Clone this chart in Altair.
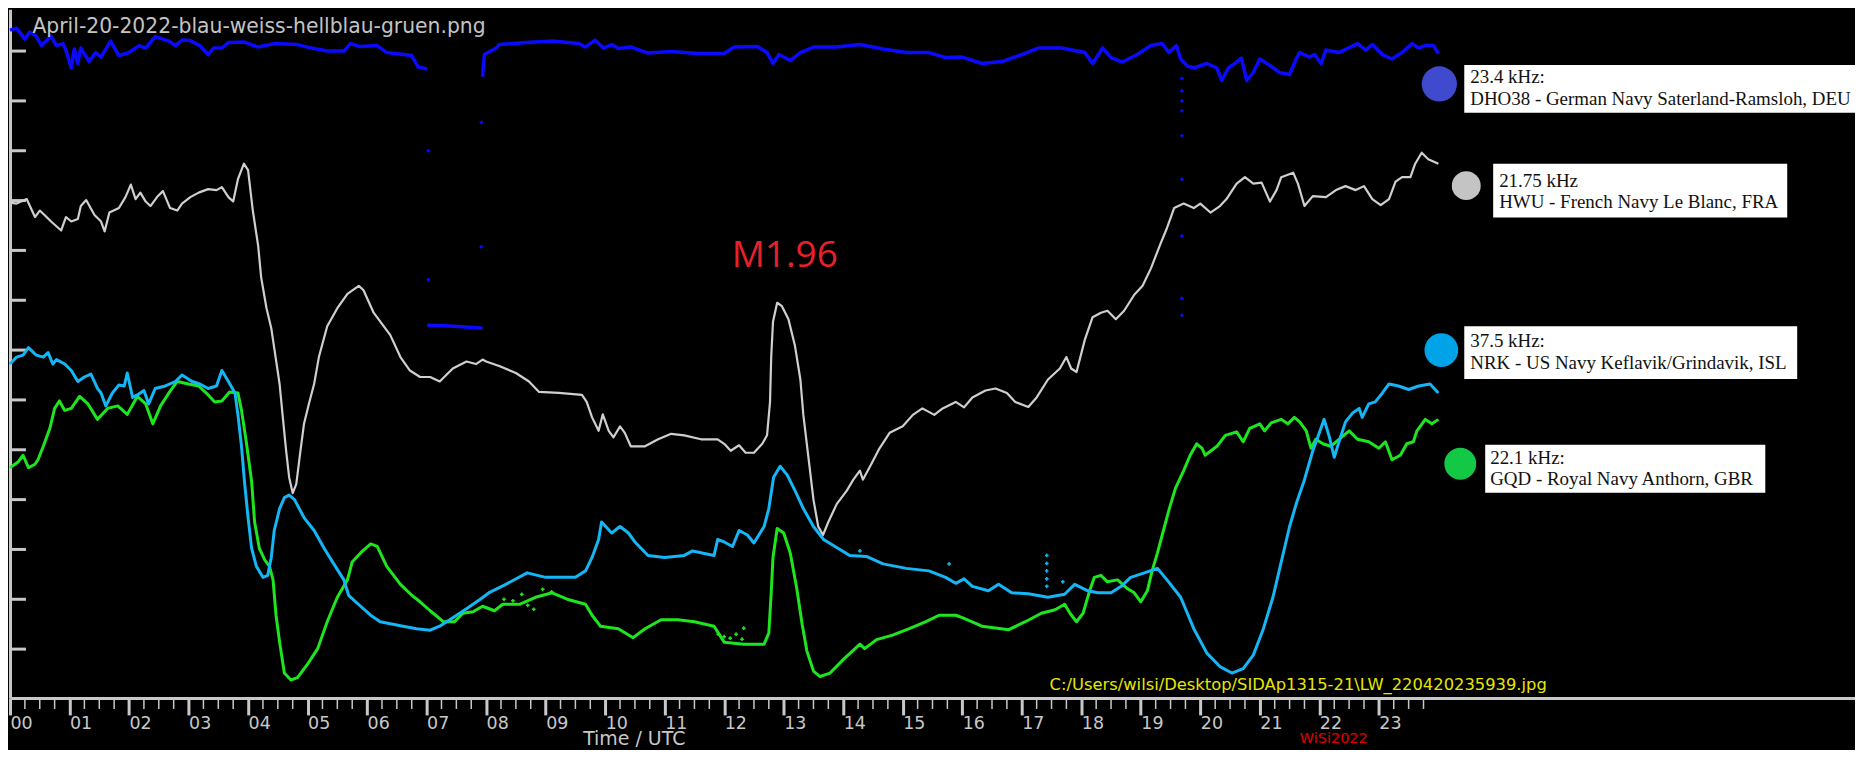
import altair as alt
import pandas as pd

# ---------------- data (hour UTC, relative signal level in axis-tick units) ----------------
HOURS = list(range(24))
HOUR_LABELS = ["00", "01", "02", "03", "04", "05", "06", "07", "08", "09", "10", "11",
               "12", "13", "14", "15", "16", "17", "18", "19", "20", "21", "22", "23"]
MINOR_TICKS = [h + q for h in range(24) for q in (0.25, 0.5, 0.75)]
Y_TICKS = [1, 2, 3, 4, 5, 6, 7, 8, 9, 10, 11, 12, 13]

# 23.4 kHz DHO38 (blue) - three pieces
DHO38_A = [(0, 13.42), (0.11, 13.46), (0.25, 13.24), (0.33, 13.38), (0.44, 13.30), (0.53, 13.11),
           (0.69, 13.30), (0.78, 13.11), (0.89, 13.15), (0.94, 13.02), (1.03, 12.66), (1.08, 13.04),
           (1.14, 12.75), (1.19, 13.06), (1.33, 12.79), (1.44, 12.97), (1.53, 12.88), (1.69, 13.20),
           (1.83, 12.91), (2.0, 12.97), (2.17, 13.11), (2.28, 13.06), (2.44, 13.29), (2.67, 13.20),
           (2.78, 13.11), (2.89, 13.22), (3.03, 13.21), (3.19, 13.11), (3.33, 12.93), (3.42, 13.06),
           (3.56, 13.06), (3.67, 13.17), (3.94, 13.18), (4.17, 13.08), (4.44, 13.15), (4.83, 13.13),
           (5.06, 13.06), (5.33, 13.00), (5.61, 13.00), (5.72, 13.15), (5.89, 13.09), (6.17, 13.11),
           (6.33, 12.97), (6.75, 12.91), (6.86, 12.68), (7.01, 12.64)]
DHO38_B = [(7.01, 7.50), (7.3, 7.49), (7.6, 7.47), (7.94, 7.44)]
DHO38_C = [(7.94, 12.48), (7.97, 12.93), (8.17, 13.06), (8.22, 13.13), (8.67, 13.17), (9.11, 13.20),
           (9.56, 13.15), (9.67, 13.08), (9.83, 13.22), (9.97, 13.06), (10.11, 13.13), (10.22, 13.05),
           (10.44, 13.08), (10.72, 12.96), (11.11, 12.99), (11.56, 12.95), (12.0, 12.95), (12.17, 13.08),
           (12.56, 13.09), (12.72, 12.97), (12.82, 12.75), (12.92, 12.93), (13.11, 12.81), (13.28, 12.97),
           (13.5, 13.08), (13.89, 13.08), (14.28, 13.13), (14.67, 13.04), (15.06, 12.97), (15.44, 12.97),
           (15.72, 12.87), (16.0, 12.88), (16.33, 12.75), (16.67, 12.79), (17.0, 12.93), (17.28, 13.06),
           (17.67, 13.06), (18.06, 12.97), (18.19, 12.75), (18.36, 13.06), (18.5, 12.87), (18.69, 12.78),
           (18.94, 12.93), (19.17, 13.11), (19.36, 13.15), (19.47, 12.97), (19.6, 13.11), (19.67, 12.84),
           (19.78, 12.70), (19.89, 12.66), (20.11, 12.75), (20.28, 12.66), (20.36, 12.41), (20.47, 12.66),
           (20.58, 12.75), (20.69, 12.86), (20.78, 12.41), (20.89, 12.57), (21.0, 12.84), (21.17, 12.71),
           (21.33, 12.57), (21.5, 12.53), (21.61, 12.84), (21.67, 12.97), (21.83, 12.88), (21.92, 12.93),
           (22.03, 12.75), (22.11, 13.02), (22.33, 12.97), (22.64, 13.15), (22.78, 13.02), (22.89, 13.13),
           (23.06, 12.93), (23.22, 12.84), (23.39, 12.97), (23.56, 13.15), (23.67, 13.06), (23.78, 13.11),
           (23.92, 13.11), (24.0, 12.95)]
DHO38_SCATTER = [(7.03, 11.0), (7.03, 8.41), (7.92, 11.57), (7.92, 9.07), (19.69, 12.45), (19.69, 12.2),
                 (19.69, 12.0), (19.69, 11.8), (19.69, 11.3), (19.69, 10.43), (19.69, 9.29),
                 (19.69, 8.04), (19.69, 7.7)]

# 21.75 kHz HWU (white / grey)
HWU = [(0, 9.96), (0.11, 9.94), (0.28, 10.03), (0.42, 9.67), (0.5, 9.80), (0.58, 9.71), (0.69, 9.58),
       (0.86, 9.40), (0.94, 9.67), (1.03, 9.58), (1.14, 9.63), (1.19, 9.89), (1.28, 10.01), (1.42, 9.71),
       (1.53, 9.58), (1.59, 9.38), (1.67, 9.76), (1.83, 9.85), (1.94, 10.07), (2.03, 10.32), (2.11, 10.03),
       (2.19, 10.16), (2.28, 9.98), (2.36, 9.89), (2.47, 10.07), (2.57, 10.19), (2.69, 9.85), (2.81, 9.80),
       (2.89, 9.94), (3.03, 10.07), (3.17, 10.16), (3.33, 10.23), (3.47, 10.21), (3.56, 10.27),
       (3.67, 10.07), (3.75, 9.98), (3.83, 10.43), (3.93, 10.74), (4.0, 10.61), (4.08, 9.80), (4.17, 9.09),
       (4.22, 8.46), (4.31, 7.84), (4.39, 7.44), (4.44, 7.04), (4.53, 6.32), (4.58, 5.70), (4.64, 4.98),
       (4.69, 4.45), (4.75, 4.13), (4.81, 4.31), (4.88, 4.98), (4.94, 5.52), (5.03, 5.96), (5.11, 6.32),
       (5.19, 6.86), (5.33, 7.48), (5.5, 7.84), (5.67, 8.13), (5.86, 8.29), (5.94, 8.20), (6.11, 7.75),
       (6.39, 7.30), (6.56, 6.86), (6.72, 6.59), (6.89, 6.46), (7.06, 6.46), (7.22, 6.37), (7.44, 6.63),
       (7.67, 6.77), (7.83, 6.72), (7.94, 6.81), (8.0, 6.77), (8.22, 6.68), (8.5, 6.54), (8.72, 6.37),
       (8.89, 6.16), (9.22, 6.14), (9.61, 6.10), (9.69, 5.96), (9.78, 5.65), (9.89, 5.38), (9.96, 5.71),
       (10.06, 5.38), (10.14, 5.25), (10.25, 5.47), (10.33, 5.34), (10.43, 5.07), (10.67, 5.07),
       (10.89, 5.21), (11.11, 5.32), (11.33, 5.29), (11.61, 5.21), (11.89, 5.21), (12.0, 5.12),
       (12.11, 4.98), (12.25, 5.09), (12.36, 4.94), (12.5, 4.94), (12.64, 5.12), (12.72, 5.29),
       (12.77, 5.96), (12.79, 6.86), (12.82, 7.57), (12.89, 7.95), (12.97, 7.88), (13.08, 7.62),
       (13.19, 7.08), (13.28, 6.41), (13.33, 5.70), (13.42, 4.80), (13.5, 4.0), (13.58, 3.46),
       (13.66, 3.29), (13.75, 3.55), (13.89, 3.91), (14.06, 4.18), (14.17, 4.40), (14.28, 4.58),
       (14.33, 4.40), (14.47, 4.71), (14.61, 5.03), (14.78, 5.34), (15.0, 5.47), (15.17, 5.70),
       (15.33, 5.83), (15.53, 5.70), (15.67, 5.83), (15.89, 5.96), (16.03, 5.85), (16.17, 6.05),
       (16.39, 6.19), (16.56, 6.23), (16.75, 6.14), (16.89, 5.96), (17.11, 5.86), (17.25, 6.05),
       (17.44, 6.41), (17.64, 6.63), (17.75, 6.86), (17.83, 6.63), (17.92, 6.56), (18.06, 7.21),
       (18.19, 7.66), (18.33, 7.75), (18.44, 7.79), (18.58, 7.62), (18.72, 7.79), (18.89, 8.11),
       (19.03, 8.29), (19.17, 8.64), (19.33, 9.13), (19.44, 9.45), (19.56, 9.85), (19.72, 9.94),
       (19.89, 9.85), (20.0, 9.94), (20.17, 9.76), (20.33, 9.89), (20.44, 10.03), (20.61, 10.34),
       (20.75, 10.47), (20.89, 10.34), (21.03, 10.36), (21.17, 9.98), (21.28, 10.21), (21.36, 10.47),
       (21.56, 10.56), (21.64, 10.34), (21.75, 9.89), (21.89, 10.09), (22.11, 10.07), (22.28, 10.21),
       (22.44, 10.29), (22.61, 10.21), (22.75, 10.29), (22.89, 10.03), (23.03, 9.91), (23.17, 10.03),
       (23.28, 10.38), (23.39, 10.47), (23.53, 10.47), (23.61, 10.74), (23.72, 10.96), (23.83, 10.83),
       (24.0, 10.74)]

# 37.5 kHz NRK (light blue)
NRK = [(0, 6.72), (0.11, 6.86), (0.22, 6.90), (0.31, 7.05), (0.44, 6.90), (0.56, 6.86), (0.64, 6.95),
       (0.72, 6.72), (0.78, 6.81), (0.92, 6.72), (1.03, 6.59), (1.14, 6.37), (1.25, 6.46), (1.36, 6.52),
       (1.47, 6.23), (1.53, 6.14), (1.61, 5.88), (1.72, 6.14), (1.83, 6.30), (1.92, 6.28), (1.97, 6.54),
       (2.06, 6.05), (2.14, 6.10), (2.25, 6.19), (2.33, 5.92), (2.44, 6.23), (2.61, 6.28), (2.78, 6.37),
       (2.89, 6.50), (3.06, 6.37), (3.19, 6.32), (3.33, 6.23), (3.47, 6.28), (3.56, 6.59), (3.67, 6.37),
       (3.78, 6.14), (3.83, 5.70), (3.89, 5.07), (3.94, 4.36), (4.0, 3.64), (4.06, 3.02), (4.14, 2.66),
       (4.25, 2.44), (4.33, 2.48), (4.39, 2.84), (4.44, 3.38), (4.53, 3.82), (4.61, 4.04), (4.69, 4.09),
       (4.78, 4.0), (4.94, 3.64), (5.11, 3.38), (5.28, 3.02), (5.44, 2.71), (5.61, 2.39), (5.69, 2.08),
       (5.89, 1.86), (6.06, 1.68), (6.22, 1.55), (6.56, 1.47), (6.83, 1.41), (7.06, 1.38), (7.22, 1.46),
       (7.44, 1.63), (7.67, 1.81), (7.89, 1.99), (8.06, 2.14), (8.33, 2.30), (8.69, 2.53), (9.0, 2.44),
       (9.28, 2.44), (9.5, 2.44), (9.67, 2.57), (9.78, 2.84), (9.89, 3.20), (9.94, 3.55), (10.11, 3.33),
       (10.25, 3.46), (10.39, 3.33), (10.5, 3.15), (10.72, 2.88), (11.0, 2.84), (11.33, 2.88),
       (11.47, 2.97), (11.83, 2.88), (11.89, 3.20), (12.0, 3.15), (12.14, 3.06), (12.25, 3.38),
       (12.39, 3.29), (12.5, 3.13), (12.67, 3.46), (12.75, 3.82), (12.83, 4.45), (12.94, 4.67),
       (13.06, 4.49), (13.19, 4.18), (13.33, 3.82), (13.5, 3.46), (13.67, 3.20), (13.89, 3.04),
       (14.11, 2.88), (14.39, 2.86), (14.67, 2.71), (15.06, 2.62), (15.44, 2.57), (15.72, 2.44),
       (15.89, 2.32), (16.03, 2.41), (16.17, 2.26), (16.44, 2.17), (16.61, 2.30), (16.83, 2.13),
       (17.11, 2.11), (17.44, 2.04), (17.72, 2.10), (17.89, 2.30), (18.11, 2.17), (18.28, 2.13),
       (18.5, 2.13), (18.67, 2.26), (18.83, 2.44), (19.06, 2.53), (19.28, 2.62), (19.44, 2.39),
       (19.67, 2.04), (19.89, 1.41), (20.11, 0.92), (20.33, 0.65), (20.53, 0.52), (20.72, 0.61),
       (20.89, 0.88), (21.06, 1.41), (21.22, 2.04), (21.36, 2.75), (21.5, 3.46), (21.61, 3.91),
       (21.75, 4.40), (21.89, 4.98), (22.0, 5.34), (22.08, 5.61), (22.17, 5.25), (22.25, 4.85),
       (22.33, 5.16), (22.44, 5.56), (22.56, 5.74), (22.67, 5.83), (22.72, 5.65), (22.83, 5.92),
       (22.94, 5.96), (23.06, 6.14), (23.17, 6.32), (23.33, 6.28), (23.5, 6.21), (23.67, 6.28),
       (23.86, 6.32), (24.0, 6.14)]
NRK_SCATTER = [(17.42, 2.88), (17.42, 2.72), (17.42, 2.57), (17.42, 2.41), (17.42, 2.26),
               (17.69, 2.35), (14.28, 2.97), (15.78, 2.71)]

# 22.1 kHz GQD (green)
GQD = [(0, 4.64), (0.14, 4.76), (0.22, 4.89), (0.31, 4.64), (0.42, 4.71), (0.47, 4.80), (0.56, 5.07),
       (0.67, 5.43), (0.75, 5.83), (0.83, 5.98), (0.92, 5.79), (1.03, 5.83), (1.17, 6.07), (1.31, 5.92),
       (1.47, 5.61), (1.64, 5.83), (1.81, 5.88), (1.97, 5.71), (2.14, 6.07), (2.28, 5.92), (2.4, 5.52),
       (2.53, 5.88), (2.67, 6.14), (2.81, 6.37), (3.0, 6.32), (3.17, 6.28), (3.33, 6.10), (3.44, 5.96),
       (3.56, 5.98), (3.69, 6.16), (3.83, 6.14), (3.89, 5.79), (3.97, 5.16), (4.06, 4.36), (4.11, 3.55),
       (4.19, 3.02), (4.28, 2.79), (4.36, 2.66), (4.42, 2.39), (4.47, 1.68), (4.53, 1.14), (4.61, 0.52),
       (4.72, 0.38), (4.83, 0.43), (5.0, 0.70), (5.17, 1.01), (5.33, 1.55), (5.5, 2.04), (5.67, 2.39),
       (5.75, 2.75), (5.89, 2.93), (6.06, 3.11), (6.17, 3.06), (6.33, 2.66), (6.56, 2.30), (6.75, 2.08),
       (6.89, 1.95), (7.06, 1.77), (7.28, 1.55), (7.47, 1.55), (7.61, 1.72), (7.78, 1.75), (7.94, 1.86),
       (8.14, 1.77), (8.28, 1.90), (8.56, 1.90), (8.83, 2.04), (9.11, 2.13), (9.39, 1.99), (9.67, 1.90),
       (9.78, 1.68), (9.92, 1.46), (10.22, 1.41), (10.47, 1.23), (10.67, 1.41), (10.94, 1.59),
       (11.22, 1.59), (11.5, 1.55), (11.83, 1.46), (12.0, 1.14), (12.33, 1.10), (12.67, 1.10),
       (12.75, 1.32), (12.79, 2.13), (12.82, 2.84), (12.89, 3.42), (13.0, 3.33), (13.11, 2.93),
       (13.22, 2.21), (13.31, 1.50), (13.39, 0.96), (13.5, 0.56), (13.61, 0.45), (13.78, 0.52),
       (14.0, 0.79), (14.28, 1.10), (14.36, 1.01), (14.56, 1.19), (14.83, 1.28), (15.11, 1.41),
       (15.39, 1.55), (15.61, 1.68), (15.89, 1.68), (16.0, 1.63), (16.33, 1.46), (16.78, 1.39),
       (17.06, 1.55), (17.33, 1.72), (17.56, 1.79), (17.72, 1.90), (17.81, 1.72), (17.92, 1.55),
       (18.03, 1.72), (18.14, 2.17), (18.22, 2.44), (18.33, 2.48), (18.44, 2.35), (18.61, 2.39),
       (18.78, 2.21), (18.89, 2.13), (19.0, 1.95), (19.11, 2.17), (19.19, 2.57), (19.28, 2.93),
       (19.36, 3.29), (19.47, 3.78), (19.58, 4.22), (19.72, 4.58), (19.83, 4.89), (19.94, 5.12),
       (20.03, 5.03), (20.08, 4.89), (20.28, 5.07), (20.42, 5.29), (20.61, 5.36), (20.72, 5.16),
       (20.83, 5.43), (21.0, 5.52), (21.08, 5.38), (21.19, 5.54), (21.36, 5.61), (21.47, 5.52),
       (21.58, 5.65), (21.67, 5.56), (21.78, 5.38), (21.86, 5.03), (21.94, 5.21), (22.06, 5.12),
       (22.19, 5.07), (22.33, 5.21), (22.5, 5.38), (22.64, 5.21), (22.83, 5.16), (23.0, 5.03),
       (23.11, 5.16), (23.22, 4.80), (23.36, 4.89), (23.47, 5.12), (23.58, 5.16), (23.64, 5.38),
       (23.78, 5.61), (23.89, 5.52), (24.0, 5.61)]
GQD_SCATTER = [(8.3, 2.0), (8.45, 1.97), (8.6, 2.1), (8.7, 1.88), (8.8, 1.8), (8.95, 2.2), (9.1, 2.15),
               (11.9, 1.3), (12.0, 1.25), (12.1, 1.22), (12.2, 1.3), (12.3, 1.2), (12.33, 1.42)]

TITLE = "April-20-2022-blau-weiss-hellblau-gruen.png"
FLARE = "M1.96"
PATH_TEXT = "C:/Users/wilsi/Desktop/SIDAp1315-21\\LW_220420235939.jpg"
SIGNATURE = "WiSi2022"
X_TITLE = "Time / UTC"
LEGEND_FREQ = ["23.4 kHz:", "21.75 kHz", "37.5 kHz:", "22.1 kHz:"]
LEGEND_NAME = ["DHO38 - German Navy Saterland-Ramsloh, DEU",
               "HWU - French Navy Le Blanc, FRA",
               "NRK - US Navy Keflavik/Grindavik, ISL",
               "GQD - Royal Navy Anthorn, GBR"]

# ---------------- styling ----------------
W, H = 1851, 691
AX = "#c8c8c8"
C_BLUE, C_GREY, C_LBLUE, C_GREEN = "#0a0aff", "#cfcfcf", "#14b6f5", "#1ee61e"
DOT_COLORS = ["#3f4acf", "#c4c4c4", "#00a2e8", "#12c844"]

xs = alt.Scale(domain=[0, 31.0], nice=False, zero=False)
ys = alt.Scale(domain=[0.02, 13.84], nice=False, zero=False)
labels_js = "[" + ",".join("'%s'" % s for s in HOUR_LABELS) + "]"
xaxis = alt.Axis(values=HOURS, labelExpr=labels_js + "[round(datum.value)]", grid=False,
                 domainColor=AX, domainWidth=3, tickColor=AX, tickWidth=3, tickSize=17,
                 labelColor=AX, labelFont="DejaVu Sans", labelFontSize=17.5, labelAlign="left",
                 labelBaseline="top", labelPadding=0, labelOverlap=False, labelFlush=False,
                 labelBound=False)
yaxis = alt.Axis(domain=True, domainColor=AX, domainWidth=3, ticks=False, labels=False, grid=False)
X = alt.X("hour:Q", scale=xs, axis=xaxis, title=None)
Y = alt.Y("level:Q", scale=ys, axis=yaxis, title=None)


def frame(pairs, seg="a"):
    return pd.DataFrame({"hour": [p[0] for p in pairs], "level": [p[1] for p in pairs], "seg": seg})


def trace(df, color, width):
    return alt.Chart(df).mark_line(color=color, strokeWidth=width, strokeJoin="round").encode(
        x=X, y=Y, detail="seg:N")


def dots(pairs, color):
    return alt.Chart(frame(pairs)).mark_point(shape="cross", filled=True, size=14, color=color,
                                              opacity=1).encode(x=X, y=Y)


def text(t, x, y, size, color, font):
    return alt.Chart(pd.DataFrame({"t": [t]})).mark_text(
        align="left", baseline="alphabetic", fontSize=size, color=color, font=font).encode(
        x=alt.value(x), y=alt.value(y), text="t:N")


layers = []
# axis decorations: inward y ticks and minor x ticks
layers.append(alt.Chart(pd.DataFrame({"level": Y_TICKS})).mark_rule(color=AX, strokeWidth=3).encode(
    y=Y, x=alt.value(0), x2=alt.value(16)))
layers.append(alt.Chart(pd.DataFrame({"hour": MINOR_TICKS})).mark_rule(color=AX, strokeWidth=1.5).encode(
    x=X, y=alt.value(H), y2=alt.value(H + 11)))

# data traces
blue_df = pd.concat([frame(DHO38_A, "a"), frame(DHO38_B, "b"), frame(DHO38_C, "c")])
layers.append(trace(blue_df, C_BLUE, 3.5))
layers.append(dots(DHO38_SCATTER, C_BLUE))
layers.append(trace(frame(HWU), C_GREY, 2.2))
layers.append(trace(frame(GQD), C_GREEN, 3))
layers.append(dots(GQD_SCATTER, C_GREEN))
layers.append(trace(frame(NRK), C_LBLUE, 3))
layers.append(dots(NRK_SCATTER, C_LBLUE))

# texts
layers.append(text(TITLE, 22.5, 24, 20.4, "#c4c4c4", "DejaVu Sans"))
layers.append(text(FLARE, 724, 259, 37, "#e8202a", "Open Sans"))
layers.append(text(PATH_TEXT, 1043, 683, 16.4, "#e6e600", "DejaVu Sans"))
layers.append(text(SIGNATURE, 1294, 736, 14.5, "#e00000", "DejaVu Sans"))
layers.append(text(X_TITLE, 575, 738, 19, AX, "DejaVu Sans"))

# legend boxes
boxes = [  # x1, x2, y1, y2, text x, baseline1, baseline2, dot x, dot y, dot size
    (1459, 1851, 56, 104, 1465, 74.5, 96, 1434, 75, 1250),
    (1488, 1783, 155, 209, 1494, 178.5, 199.5, 1461, 177, 841),
    (1459, 1793, 318, 371, 1465, 338.5, 361, 1436, 342, 1150),
    (1480, 1761, 437, 485, 1485, 456, 477.5, 1455, 456, 1024),
]
for i, (x1, x2, y1, y2, tx, b1, b2, dx, dy, ds) in enumerate(boxes):
    layers.append(alt.Chart(pd.DataFrame({"k": [i]})).mark_rect(color="#ffffff").encode(
        x=alt.value(x1), x2=alt.value(x2), y=alt.value(y1), y2=alt.value(y2)))
    layers.append(text(LEGEND_FREQ[i], tx, b1, 19, "#111111", "Liberation Serif"))
    layers.append(text(LEGEND_NAME[i], tx, b2, 19, "#111111", "Liberation Serif"))
    layers.append(alt.Chart(pd.DataFrame({"k": [i]})).mark_point(
        shape="circle", filled=True, size=ds, color=DOT_COLORS[i], opacity=1).encode(
        x=alt.value(dx), y=alt.value(dy)))

chart = alt.layer(*layers).properties(width=W, height=H, padding=0).configure(
    background="#000000").configure_view(strokeWidth=0)

chart.save("out.html", embed_options={"renderer": "svg", "actions": False})
